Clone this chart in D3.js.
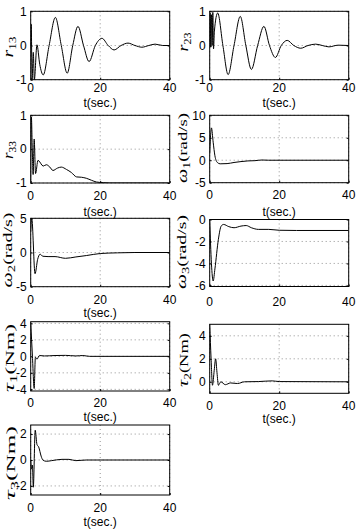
<!DOCTYPE html>
<html>
<head>
<meta charset="utf-8">
<script src="https://cdn.jsdelivr.net/npm/d3@7"></script>
<style>
  body { margin: 0; background: #fff; }
  svg text { font-family: "Liberation Sans", Arial, sans-serif; }
</style>
</head>
<body>
<svg id="fig" width="356" height="530"></svg>
<script>
// time axis, seconds
const timeDomain = [0, 40];
const timeTicks = [0, 20, 40];

// series values, [t, value]
const r13Data = [[0,0],[0.15,0.62],[0.4,-1],[0.75,-0.2],[1.05,-1],[1.8,0.02],[2.6,-0.55],[3.6,-0.86],[5.3,0],[7.1,0.82],[8.8,0],[10.5,-0.81],[12.1,0],[13.6,0.56],[15.2,0],[16.8,-0.47],[18.6,0],[20.5,0.21],[22.3,0],[24,-0.13],[26,0],[28,0.07],[30,0],[32,-0.05],[34,0],[35.8,0.04],[38,0],[40,0]];
const r23Data = [[0,0.1],[0.15,0.95],[0.3,-0.05],[0.5,0.9],[0.7,0],[0.9,0.97],[1.1,-0.1],[1.35,0.42],[2.3,0.95],[3.8,0],[5.3,-0.85],[7,0],[8.8,0.85],[10.4,0],[12,-0.7],[13.8,0],[15.6,0.56],[17.2,0],[18.9,-0.35],[20.6,0],[22.3,0.15],[24.2,0],[26.2,-0.08],[28.3,0],[30.5,0.04],[32.4,0],[34.3,-0.04],[37,0.01],[40,0]];
const r33Data = [[0,-0.95],[0.2,0.95],[0.45,0],[0.7,-0.75],[1,0.3],[1.4,-0.72],[2.1,-0.33],[3.6,-0.5],[4.5,-0.46],[5.5,-0.53],[6.4,-0.63],[7.7,-0.56],[8.8,-0.53],[10.3,-0.6],[11.7,-0.69],[13.2,-0.82],[14.6,-0.83],[16,-0.86],[17.5,-0.92],[18.9,-0.97],[20.9,-0.99],[22.8,-1],[40,-1]];
const w1Data = [[0,1.5],[0.5,7.2],[1,4],[1.5,1],[2.2,-0.5],[3,-0.8],[5,-0.75],[7,-0.5],[9,-0.3],[11,-0.15],[13,-0.1],[15,0.05],[17,0],[40,0]];
const w2Data = [[0,3],[0.3,5],[1.25,-3.1],[2,-1],[2.7,-0.25],[3.5,-0.55],[5,-0.6],[7,-0.6],[10,-0.85],[13,-0.65],[16,-0.45],[20,-0.15],[25,-0.05],[30,0],[40,0]];
const w3Data = [[0,0],[0.5,-4],[1,-5.6],[1.5,-4.5],[2.5,-1.8],[3.3,-0.6],[4,-0.45],[5.5,-0.65],[7,-0.75],[9,-0.6],[10.5,-0.55],[12,-0.75],[14,-0.9],[17,-0.9],[20,-0.98],[25,-1],[40,-1]];
const t1Data = [[0,4.1],[0.5,0],[1,-3.9],[1.35,-0.1],[1.8,-0.35],[2.5,0.1],[4,0.05],[7,0.1],[10,0.12],[13,0.05],[15,0.1],[17,0],[40,0]];
const t2Data = [[0,5],[0.4,2],[0.8,-0.3],[1.3,1],[1.7,2],[2.1,0.8],[2.5,-0.3],[3.2,0],[4.5,-0.25],[6,-0.1],[8,-0.15],[10,0],[14,0.02],[18,0.08],[20,0.02],[40,0]];
const t3Data = [[0,0],[0.3,-0.7],[0.5,-0.4],[0.75,-2.1],[1.3,2.3],[1.8,1.2],[2.3,1],[3,0.3],[3.5,0],[4.5,-0.1],[6,-0.05],[9,0.05],[11,0.05],[13,-0.05],[16,0],[40,0]];

// y tick labels
const rTicks = [-1, 0, 1];
const w1Ticks = [-5, 0, 5, 10];
const w2Ticks = [-5, 0, 5];
const w3Ticks = [-6, -4, -2, 0];
const t1Ticks = [-4, -2, 0, 2, 4];
const t2Ticks = [0, 2, 4];
const t3Ticks = [-2, 0, 2];

// y label pieces: symbol, subscript, unit
const labels = {
  r13: ["r", "13", ""], r23: ["r", "23", ""], r33: ["r", "33", ""],
  w1: ["ω", "1", "(rad/s)"], w2: ["ω", "2", "(rad/s)"], w3: ["ω", "3", "(rad/s)"],
  t1: ["τ", "1", "(Nm)"], t2: ["τ", "2", "(Nm)"], t3: ["τ", "3", "(Nm)"]
};

// layout: box = [x0, y0, x1, y1]; lab = [baseline x, centre y, length]
const panels = [
  { id: "r13", data: r13Data, yDomain: [-1, 1], yTicks: rTicks, box: [30.7, 11.3, 169.7, 79.7], tickDy: 12, xlabDy: 27, lab: [13, 47, 21] },
  { id: "r23", data: r23Data, yDomain: [-1, 1], yTicks: rTicks, box: [209.7, 11.3, 348.7, 79.7], tickDy: 12, xlabDy: 27, lab: [188, 42, 19] },
  { id: "r33", data: r33Data, yDomain: [-1, 1], yTicks: rTicks, box: [30.7, 115.3, 169.7, 183], tickDy: 16.5, xlabDy: 33, lab: [13, 150, 18] },
  { id: "w1", data: w1Data, yDomain: [-5, 10], yTicks: w1Ticks, box: [209.7, 115.3, 348.7, 182.7], tickDy: 16.5, xlabDy: 33, lab: [187, 148, 70] },
  { id: "w2", data: w2Data, yDomain: [-5, 5], yTicks: w2Ticks, box: [30.7, 218.3, 169.7, 286.7], tickDy: 17.5, xlabDy: 30, lab: [12, 250, 75] },
  { id: "w3", data: w3Data, yDomain: [-6.1, 0], yTicks: w3Ticks, box: [209.7, 219.5, 348.7, 286.5], tickDy: 19, xlabDy: null, lab: [186, 252, 74] },
  { id: "t1", data: t1Data, yDomain: [-4.2, 4.2], yTicks: t1Ticks, box: [30.7, 321.7, 169.7, 391], tickDy: 16, xlabDy: 29.5, lab: [14, 358, 68] },
  { id: "t2", data: t2Data, yDomain: [-1, 5], yTicks: t2Ticks, box: [209.7, 324.3, 348.7, 393.3], tickDy: 17, xlabDy: 30, lab: [188, 360, 54] },
  { id: "t3", data: t3Data, yDomain: [-2.7, 2.7], yTicks: t3Ticks, box: [30.7, 425, 169.7, 495], tickDy: 16.5, xlabDy: 30.5, lab: [14.5, 463, 74] }
];

const svg = d3.select("#fig");
const fmt = v => String(v);

panels.forEach(p => {
  const [x0, y0, x1, y1] = p.box;
  const x = d3.scaleLinear().domain(timeDomain).range([x0, x1]);
  const y = d3.scaleLinear().domain(p.yDomain).range([y1, y0]);
  const g = svg.append("g");

  g.append("clipPath").attr("id", "clip-" + p.id)
    .append("rect").attr("x", x0).attr("y", y0).attr("width", x1 - x0).attr("height", y1 - y0);

  // dotted grid
  g.selectAll(".gy").data(p.yTicks).join("line")
    .attr("x1", x0).attr("x2", x1)
    .attr("y1", d => y(d)).attr("y2", d => y(d))
    .attr("stroke", "#777").attr("stroke-width", 0.8).attr("stroke-dasharray", "1,3");
  g.selectAll(".gx").data(timeTicks).join("line")
    .attr("y1", y0).attr("y2", y1)
    .attr("x1", d => x(d)).attr("x2", d => x(d))
    .attr("stroke", "#777").attr("stroke-width", 0.8).attr("stroke-dasharray", "1,3");

  // inward ticks
  g.append("g").attr("transform", `translate(${x0},0)`)
    .call(d3.axisRight(y).tickValues(p.yTicks).tickSize(2).tickFormat(""))
    .call(a => a.select(".domain").remove());
  g.append("g").attr("transform", `translate(${x1},0)`)
    .call(d3.axisLeft(y).tickValues(p.yTicks).tickSize(2).tickFormat(""))
    .call(a => a.select(".domain").remove());
  g.append("g").attr("transform", `translate(0,${y1})`)
    .call(d3.axisTop(x).tickValues(timeTicks).tickSize(2).tickFormat(""))
    .call(a => a.select(".domain").remove());

  // curve
  const line = d3.line().x(d => x(d[0])).y(d => y(d[1])).curve(d3.curveMonotoneX);
  g.append("path").datum(p.data)
    .attr("d", line)
    .attr("clip-path", `url(#clip-${p.id})`)
    .attr("fill", "none").attr("stroke", "#000").attr("stroke-width", 1);

  // box
  g.append("rect").attr("x", x0).attr("y", y0).attr("width", x1 - x0).attr("height", y1 - y0)
    .attr("fill", "none").attr("stroke", "#000").attr("stroke-width", 1);

  // tick labels
  g.selectAll(".yl").data(p.yTicks).join("text")
    .attr("x", x0 - 4).attr("y", d => y(d) + 4.3)
    .attr("text-anchor", "end").attr("font-size", 12)
    .text(fmt);
  g.selectAll(".xl").data(timeTicks).join("text")
    .attr("x", d => x(d)).attr("y", y1 + p.tickDy)
    .attr("text-anchor", "middle").attr("font-size", 12)
    .text(fmt);

  if (p.xlabDy !== null) {
    g.append("text").attr("x", (x0 + x1) / 2).attr("y", y1 + p.xlabDy)
      .attr("text-anchor", "middle").attr("font-size", 12)
      .text("t(sec.)");
  }

  // y label, stretched along its length like the source
  const [sym, sub, unit] = labels[p.id];
  const [lx, ly, len] = p.lab;
  const t = g.append("text")
    .attr("text-anchor", "middle")
    .style("font-family", '"Liberation Serif", "Times New Roman", serif')
    .attr("font-size", 13);
  t.append("tspan").attr("font-style", "italic").attr("font-size", 14).text(sym);
  t.append("tspan").attr("font-size", 9.5).attr("dy", 3).text(sub);
  if (unit) t.append("tspan").attr("dy", -3).text(unit);
  const w = t.node().getComputedTextLength();
  const sx = len / w;
  t.attr("transform", `translate(${lx},${ly}) rotate(-90) scale(${sx},1)`);
});
</script>
</body>
</html>
